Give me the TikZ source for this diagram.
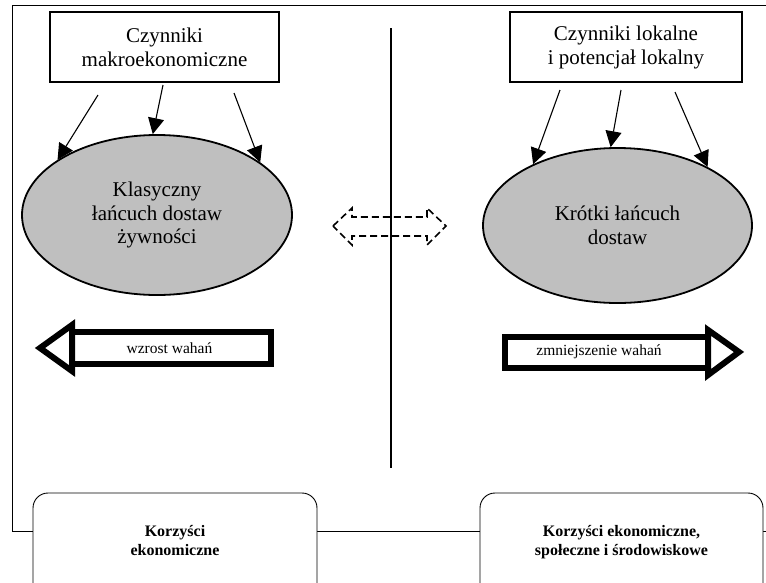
\documentclass[tikz,border=0pt]{standalone}
\usepackage{fontspec}
\setmainfont{Liberation Serif}
\usetikzlibrary{arrows.meta, shapes.geometric}
\definecolor{chaingray}{gray}{0.75}

\begin{document}
\begin{tikzpicture}[x=1pt, y=-1pt,
    every node/.style={align=center, inner sep=0pt},
    factorbox/.style={draw, line width=1.6pt, fill=white, minimum height=70pt, font=\fontsize{21}{24}\selectfont},
    chain/.style={ellipse, draw, line width=1.8pt, fill=chaingray, font=\fontsize{21}{23.5}\selectfont},
    benefit/.style={draw, line width=0.9pt, rounded corners=15pt, fill=white, minimum height=119pt, text depth=24pt, font=\fontsize{16}{18.5}\selectfont\bfseries},
    infl/.style={-{Triangle[length=16pt, width=16pt]}, line width=1.1pt},
    fatarrow/.style={line width=6pt, fill=white},
    swap/.style={line width=1.6pt, dash pattern=on 7pt off 4pt},
    fluct/.style={font=\fontsize{15.5}{18}\selectfont}]
    \useasboundingbox (0,0) rectangle (766,582);

    % Frame and divider
    \draw[line width=0.9pt] (766,5) -- (12,5) -- (12,531) -- (766,531);
    \draw[line width=1.5pt] (391,28) -- (391,468);

    % Factor boxes
    \node[factorbox, minimum width=229pt] (macro) at (164.5,47) {Czynniki\\makroekonomiczne};
    \node[factorbox, minimum width=232pt] (local) at (626,47) {Czynniki lokalne\\i potencjał lokalny};

    % Supply chains
    \node[chain, minimum width=270pt, minimum height=160pt] (classic) at (157,215) {Klasyczny\\łańcuch dostaw\\żywności};
    \node[chain, minimum width=269pt, minimum height=155pt] (short) at (617.5,225.5) {Krótki łańcuch\\dostaw};

    % Arrows from the factors
    \coordinate (m1) at (98,95);
    \coordinate (m2) at (163,85);
    \coordinate (m3) at (234,93);
    \coordinate (l1) at (560,90);
    \coordinate (l2) at (621,90);
    \coordinate (l3) at (675,92);
    \draw[infl] (m1) -- (classic.151);
    \draw[infl] (m2) -- (classic.93);
    \draw[infl] (m3) -- (classic.27);
    \draw[infl] (l1) -- (short.144);
    \draw[infl] (l2) -- (short.95);
    \draw[infl] (l3) -- (short.33);

    % Dashed double arrow between the chains
    \draw[swap] (333,226) -- (352,208) -- (352,217) -- (427,217) -- (427,208) -- (446,226)
        -- (427,245) -- (427,236) -- (352,236) -- (352,245) -- cycle;

    % Fluctuation arrows
    \draw[fatarrow] (72,332) rectangle (271,364);
    \draw[fatarrow, line join=miter] (72,325) -- (40,348) -- (72,371) -- cycle;
    \node[fluct] (rise) at (169.5,348) {wzrost wahań};
    \draw[fatarrow] (505,337) rectangle (708,368);
    \draw[fatarrow, line join=miter] (708,330) -- (739,352) -- (708,375) -- cycle;
    \node[fluct] (fall) at (599,352) {zmniejszenie wahań};

    % Benefits
    \node[benefit, minimum width=284pt] (econ) at (175,552.5) {Korzyści\\ekonomiczne};
    \node[benefit, minimum width=283pt] (all) at (621.5,552.5) {Korzyści ekonomiczne,\\społeczne i środowiskowe};
\end{tikzpicture}
\end{document}
